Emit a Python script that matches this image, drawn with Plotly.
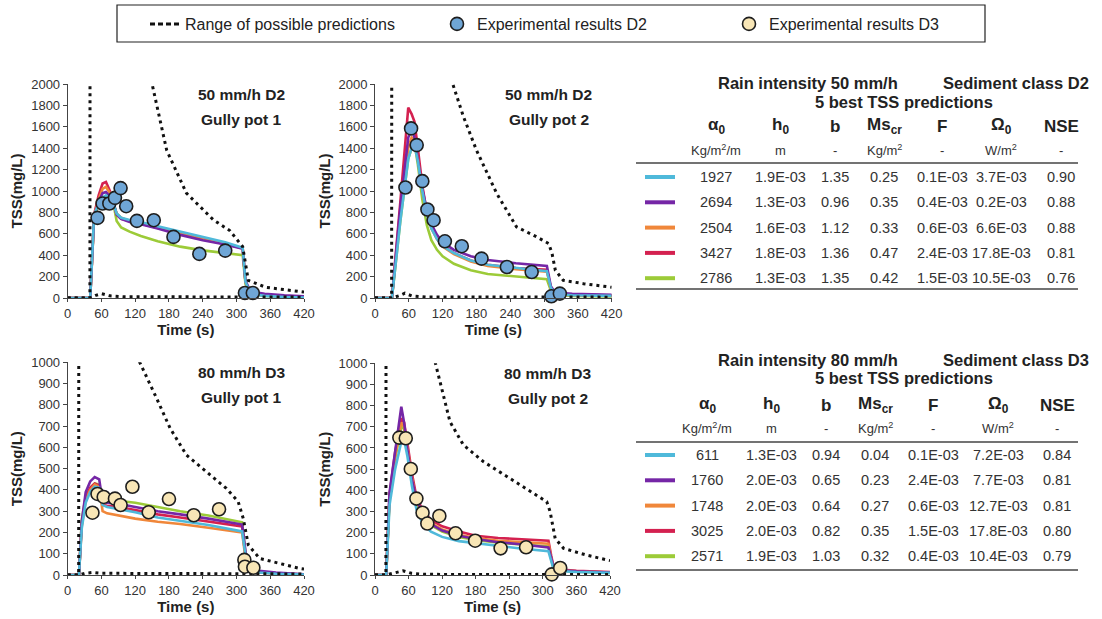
import plotly.graph_objects as go

W, H = 1102, 619
FONT = "Liberation Sans, Arial, sans-serif"

# ---------------- colours of the 5 best predictions (table order) ----------
SERIES_NAMES = ["cyan", "purple", "orange", "red", "green"]
SERIES_COLORS = ["#4FB9DA", "#7526A6", "#F0873A", "#D42150", "#9CCB38"]
D2_FILL = "#6FA6D6"
D3_FILL = "#F8E6B6"

# ---------------- 50 mm/h D2, gully pot 1 ----------------------------------
t_a = [0, 40, 47, 55, 62, 68, 75, 82, 87, 95, 110, 130, 160, 200, 240, 280, 311, 316, 325, 350, 385, 420]
a_cyan = [0, 0, 780, 880, 940, 960, 930, 870, 790, 750, 730, 710, 670, 620, 570, 520, 470, 150, 40, 20, 10, 5]
a_purple = [0, 0, 760, 900, 980, 990, 950, 880, 780, 740, 710, 690, 650, 590, 540, 500, 460, 160, 60, 40, 25, 15]
a_orange = [0, 0, 770, 920, 1020, 1040, 980, 880, 790, 750, 720, 700, 660, 600, 550, 510, 465, 150, 45, 25, 12, 6]
a_red = [0, 0, 780, 960, 1070, 1085, 1000, 880, 780, 740, 720, 695, 655, 600, 550, 505, 465, 150, 45, 25, 12, 6]
a_green = [0, 0, 750, 870, 930, 945, 920, 860, 720, 660, 620, 580, 530, 480, 445, 420, 400, 130, 40, 20, 10, 5]
a_up_t = [0, 39.5, 40, 150, 176, 211, 259, 288, 311, 321, 352, 420]
a_up_v = [0, 0, 6000, 2000, 1380, 980, 730, 630, 480, 165, 100, 55]
a_lo_t = [0, 40, 50, 60, 75, 100, 420]
a_lo_v = [0, 0, 25, 40, 20, 12, 8]
a_exp_t = [53, 62, 74, 84, 94, 104, 123, 153, 188, 234, 280, 315, 329]
a_exp_v = [749, 883, 883, 936, 1027, 858, 721, 727, 571, 412, 443, 47, 47]

# ---------------- 50 mm/h D2, gully pot 2 ----------------------------------
t_b = [0, 30, 45, 59, 65, 70, 76, 84, 92, 100, 110, 120, 140, 170, 200, 250, 305, 312, 320, 350, 420]
b_cyan = [0, 0, 720, 1300, 1400, 1430, 1280, 1000, 780, 650, 550, 485, 420, 350, 310, 280, 250, 95, 35, 25, 20]
b_purple = [0, 0, 850, 1500, 1580, 1500, 1300, 1020, 820, 690, 590, 520, 450, 390, 355, 325, 300, 110, 50, 40, 30]
b_orange = [0, 0, 780, 1400, 1500, 1480, 1300, 1000, 780, 650, 550, 480, 410, 340, 300, 270, 245, 95, 35, 25, 20]
b_red = [0, 0, 900, 1780, 1720, 1650, 1400, 1050, 800, 660, 560, 490, 420, 350, 310, 280, 265, 100, 40, 30, 25]
b_green = [0, 0, 720, 1300, 1400, 1450, 1250, 920, 680, 540, 450, 390, 320, 260, 225, 200, 175, 70, 30, 20, 15]
b_up_t = [0, 29.5, 30, 138, 157, 180, 216, 251, 287, 308, 314, 320, 334, 370, 420]
b_up_v = [0, 0, 6000, 2000, 1694, 1382, 977, 665, 571, 509, 420, 259, 165, 134, 100]
b_lo_t = [0, 30, 45, 53, 65, 90, 420]
b_lo_v = [0, 0, 25, 45, 20, 10, 8]
b_exp_t = [54, 64, 74, 84, 93, 104, 124, 154, 189, 234, 278, 313, 328]
b_exp_v = [1033, 1585, 1429, 1092, 827, 727, 530, 484, 368, 290, 243, 16, 41]

# ---------------- 80 mm/h D3, gully pot 1 ----------------------------------
t_c = [0, 20, 25, 32, 40, 48, 56, 62, 70, 90, 120, 160, 200, 250, 310, 315, 320, 340, 370, 420]
c_cyan = [0, 0, 220, 340, 390, 415, 410, 330, 320, 310, 295, 270, 255, 235, 205, 100, 20, 12, 6, 2]
c_purple = [0, 0, 250, 390, 440, 460, 450, 345, 340, 335, 320, 300, 285, 265, 237, 120, 30, 20, 12, 3]
c_orange = [0, 0, 230, 350, 400, 425, 415, 300, 290, 280, 265, 250, 240, 222, 200, 100, 20, 12, 6, 2]
c_red = [0, 0, 240, 360, 410, 430, 420, 330, 325, 320, 305, 285, 270, 250, 228, 110, 25, 15, 8, 2]
c_green = [0, 0, 260, 370, 410, 430, 425, 360, 355, 350, 340, 320, 300, 280, 248, 120, 25, 15, 8, 2]
c_up_t = [0, 19.5, 20, 128, 158, 182, 211, 247, 282, 303, 312, 321, 341, 412, 420]
c_up_v = [0, 0, 3000, 1000, 831, 690, 564, 486, 407, 345, 266, 141, 78, 31, 28]
c_lo_t = [0, 20, 30, 45, 60, 420]
c_lo_v = [0, 0, 8, 12, 8, 5]
c_exp_t = [44, 53, 64, 84, 94, 115, 144, 180, 224, 269, 314, 315, 330]
c_exp_v = [293, 381, 367, 359, 329, 415, 295, 357, 281, 309, 71, 39, 34]

# ---------------- 80 mm/h D3, gully pot 2 ----------------------------------
t_d = [0, 20, 26, 36, 47, 52, 58, 66, 74, 86, 100, 120, 150, 180, 220, 260, 310, 315, 320, 360, 420]
d_cyan = [0, 0, 330, 500, 630, 640, 560, 420, 310, 240, 205, 180, 160, 150, 135, 125, 112, 60, 20, 14, 10]
d_purple = [0, 0, 390, 590, 795, 720, 590, 450, 360, 285, 240, 210, 185, 170, 155, 145, 130, 80, 25, 18, 12]
d_orange = [0, 0, 370, 560, 720, 700, 600, 460, 350, 285, 245, 215, 190, 175, 162, 155, 148, 80, 25, 18, 12]
d_red = [0, 0, 380, 580, 740, 720, 620, 480, 370, 300, 260, 230, 205, 185, 175, 168, 162, 90, 28, 20, 14]
d_green = [0, 0, 360, 550, 700, 690, 590, 450, 340, 275, 235, 205, 180, 165, 152, 145, 135, 75, 22, 15, 10]
d_up_t = [0, 19.5, 20, 108, 134, 158, 194, 241, 277, 307, 313, 322, 337, 378, 420]
d_up_v = [0, 0, 3000, 1000, 724, 614, 535, 457, 394, 346, 299, 173, 126, 94, 68]
d_lo_t = [0, 20, 35, 50, 65, 90, 420]
d_lo_v = [0, 0, 10, 20, 8, 3, 2]
d_exp_t = [43.5, 55, 64, 74, 85, 93.5, 115, 144, 179, 224.5, 270, 316, 331]
d_exp_v = [649, 646, 501, 361, 294, 243, 279, 197, 162, 126, 131, 3, 33]

# ---------------- axis ticks ----------------------------------------------
x_tickvals = [0, 60, 120, 180, 240, 300, 360, 420]
x_ticktext = ["0", "60", "120", "180", "240", "300", "360", "420"]
x_ticktext_d = ["0", "60", "120", "180", "250", "300", "360", "420"]
y_ticks_top = [0, 200, 400, 600, 800, 1000, 1200, 1400, 1600, 1800, 2000]
y_ticks_bot = [0, 100, 200, 300, 400, 500, 600, 700, 800, 900, 1000]

panel_titles = [("50 mm/h D2", "Gully pot 1"), ("50 mm/h D2", "Gully pot 2"),
                ("80 mm/h D3", "Gully pot 1"), ("80 mm/h D3", "Gully pot 2")]

# ---------------- tables ----------------------------------------------------
tab_headers = ["α<sub>0</sub>", "h<sub>0</sub>", "b", "Ms<sub>cr</sub>", "F", "Ω<sub>0</sub>", "NSE"]
tab_units = ["Kg/m<sup>2</sup>/m", "m", "-", "Kg/m<sup>2</sup>", "-", "W/m<sup>2</sup>", "-"]
tab1_title = ("Rain intensity 50 mm/h", "Sediment class D2", "5 best TSS predictions")
tab1_rows = [
    ["1927", "1.9E-03", "1.35", "0.25", "0.1E-03", "3.7E-03", "0.90"],
    ["2694", "1.3E-03", "0.96", "0.35", "0.4E-03", "0.2E-03", "0.88"],
    ["2504", "1.6E-03", "1.12", "0.33", "0.6E-03", "6.6E-03", "0.88"],
    ["3427", "1.8E-03", "1.36", "0.47", "2.4E-03", "17.8E-03", "0.81"],
    ["2786", "1.3E-03", "1.35", "0.42", "1.5E-03", "10.5E-03", "0.76"],
]
tab2_title = ("Rain intensity 80 mm/h", "Sediment class D3", "5 best TSS predictions")
tab2_rows = [
    ["611", "1.3E-03", "0.94", "0.04", "0.1E-03", "7.2E-03", "0.84"],
    ["1760", "2.0E-03", "0.65", "0.23", "2.4E-03", "7.7E-03", "0.81"],
    ["1748", "2.0E-03", "0.64", "0.27", "0.6E-03", "12.7E-03", "0.81"],
    ["3025", "2.0E-03", "0.82", "0.35", "1.5E-03", "17.8E-03", "0.80"],
    ["2571", "1.9E-03", "1.03", "0.32", "0.4E-03", "10.4E-03", "0.79"],
]

# =========================== layout helpers ================================
def fx(p):
    return p / W


def fy(p):
    return 1 - p / H


# panel pixel boxes (left, right, top, bottom)
boxes = [(67.7, 304, 84, 298), (375, 611.7, 84, 298),
         (67.7, 304, 362.3, 575), (375, 610, 363.3, 575)]

panels = [
    dict(t=t_a, s=[a_cyan, a_purple, a_orange, a_red, a_green], up=(a_up_t, a_up_v), lo=(a_lo_t, a_lo_v),
         exp=(a_exp_t, a_exp_v), fill=D2_FILL, yr=2000, yt=y_ticks_top, xt=x_ticktext),
    dict(t=t_b, s=[b_cyan, b_purple, b_orange, b_red, b_green], up=(b_up_t, b_up_v), lo=(b_lo_t, b_lo_v),
         exp=(b_exp_t, b_exp_v), fill=D2_FILL, yr=2000, yt=y_ticks_top, xt=x_ticktext),
    dict(t=t_c, s=[c_cyan, c_purple, c_orange, c_red, c_green], up=(c_up_t, c_up_v), lo=(c_lo_t, c_lo_v),
         exp=(c_exp_t, c_exp_v), fill=D3_FILL, yr=1000, yt=y_ticks_bot, xt=x_ticktext),
    dict(t=t_d, s=[d_cyan, d_purple, d_orange, d_red, d_green], up=(d_up_t, d_up_v), lo=(d_lo_t, d_lo_v),
         exp=(d_exp_t, d_exp_v), fill=D3_FILL, yr=1000, yt=y_ticks_bot, xt=x_ticktext_d),
]

fig = go.Figure()
DOT = "3px,4px"
draw_order = [4, 3, 2, 1, 0]  # green, red, orange, purple, cyan (cyan on top)
MK = 13

for i, p in enumerate(panels):
    xa = "x" if i == 0 else f"x{i+1}"
    ya = "y" if i == 0 else f"y{i+1}"
    for k in draw_order:
        fig.add_trace(go.Scatter(x=p["t"], y=p["s"][k], mode="lines", xaxis=xa, yaxis=ya,
                                 line=dict(color=SERIES_COLORS[k], width=2.6), showlegend=False,
                                 hoverinfo="skip"))
    for (tt, vv) in (p["up"], p["lo"]):
        fig.add_trace(go.Scatter(x=tt, y=vv, mode="lines", xaxis=xa, yaxis=ya,
                                 line=dict(color="#111111", width=3, dash=DOT), showlegend=False,
                                 hoverinfo="skip"))
    fig.add_trace(go.Scatter(x=p["exp"][0], y=p["exp"][1], mode="markers", xaxis=xa, yaxis=ya,
                             marker=dict(size=MK, color=p["fill"], line=dict(color="#1e1e1e", width=1.6)),
                             showlegend=False, cliponaxis=False))

# legend-only entries
fig.add_trace(go.Scatter(x=[None], y=[None], mode="lines", name="Range of possible predictions",
                         line=dict(color="#111111", width=3, dash="5px,3px")))
fig.add_trace(go.Scatter(x=[None], y=[None], mode="markers", name="Experimental results D2",
                         marker=dict(size=MK, color=D2_FILL, line=dict(color="#1e1e1e", width=1.6))))
fig.add_trace(go.Scatter(x=[None], y=[None], mode="markers", name="Experimental results D3",
                         marker=dict(size=MK, color=D3_FILL, line=dict(color="#1e1e1e", width=1.6))))

layout = dict(
    width=W, height=H, margin=dict(l=0, r=0, t=0, b=0, autoexpand=False),
    paper_bgcolor="white", plot_bgcolor="white",
    font=dict(family=FONT, color="#222222"),
    showlegend=True,
    legend=dict(orientation="h", x=fx(145), y=fy(24), xanchor="left", yanchor="middle",
                entrywidth=247, entrywidthmode="pixels", font=dict(size=16, color="#222222"),
                bgcolor="rgba(0,0,0,0)", borderwidth=0),
)
annotations = []
shapes = []

for i, p in enumerate(panels):
    l, r, t, b = boxes[i]
    sx = "xaxis" if i == 0 else f"xaxis{i+1}"
    sy = "yaxis" if i == 0 else f"yaxis{i+1}"
    xa = "x" if i == 0 else f"x{i+1}"
    ya = "y" if i == 0 else f"y{i+1}"
    layout[sx] = dict(domain=[fx(l), fx(r)], range=[0, 420], anchor=ya, tickvals=x_tickvals,
                      ticktext=p["xt"], showgrid=False, zeroline=False, showline=True, linecolor="#444444",
                      linewidth=1, ticks="outside", ticklen=3, tickcolor="#444444", automargin=False,
                      tickfont=dict(size=13, color="#333333"),
                      title=dict(text="<b>Time (s)</b>", font=dict(size=15, color="#222222"), standoff=4))
    layout[sy] = dict(domain=[fy(b), fy(t)], range=[0, p["yr"]], anchor=xa, tickvals=p["yt"],
                      showgrid=False, zeroline=False, showline=True, linecolor="#444444", linewidth=1,
                      ticks="outside", ticklen=4, tickcolor="#444444", automargin=False,
                      tickfont=dict(size=13, color="#333333"),
                      title=dict(text="<b>TSS(mg/L)</b>", font=dict(size=15, color="#222222"), standoff=4))
    cx = l + 0.735 * (r - l)
    l1, l2 = panel_titles[i]
    annotations.append(dict(xref="paper", yref="paper", x=fx(cx), y=fy(t + 10), text=f"<b>{l1}</b>",
                            showarrow=False, font=dict(size=15.5, color="#222222"), xanchor="center",
                            yanchor="middle"))
    annotations.append(dict(xref="paper", yref="paper", x=fx(cx), y=fy(t + 35), text=f"<b>{l2}</b>",
                            showarrow=False, font=dict(size=15.5, color="#222222"), xanchor="center",
                            yanchor="middle"))

# legend frame
shapes.append(dict(type="rect", xref="paper", yref="paper", x0=fx(117), x1=fx(985), y0=fy(42), y1=fy(5),
                   line=dict(color="#222222", width=1.2), fillcolor="rgba(0,0,0,0)", layer="below"))


def ann(x, y, text, size, color="#222222", xanchor="center"):
    annotations.append(dict(xref="paper", yref="paper", x=fx(x), y=fy(y), text=text, showarrow=False,
                            xanchor=xanchor, yanchor="middle", font=dict(size=size, color=color)))


def add_table(title, rows, cols_x, y_title, y_sub, y_head, y_unit, y_rule1, y_row0, row_step, y_rule2):
    ann(900, y_title, f"<b>{title[0]}</b>", 16.5, xanchor="right")
    ann(1091, y_title, f"<b>{title[1]}</b>", 16.5, xanchor="right")
    ann(904, y_sub, f"<b>{title[2]}</b>", 16.5)
    for j, (h, u) in enumerate(zip(tab_headers, tab_units)):
        ann(cols_x[j], y_head, f"<b>{h}</b>", 17)
        ann(cols_x[j], y_unit, u, 13, color="#333333")
    for k, row in enumerate(rows):
        yy = y_row0 + k * row_step
        shapes.append(dict(type="line", xref="paper", yref="paper", x0=fx(645), x1=fx(675), y0=fy(yy), y1=fy(yy),
                           line=dict(color=SERIES_COLORS[k], width=4)))
        for j, v in enumerate(row):
            ann(cols_x[j], yy, v, 14.5, color="#333333")
    for yr_ in (y_rule1, y_rule2):
        shapes.append(dict(type="line", xref="paper", yref="paper", x0=fx(636), x1=fx(1078), y0=fy(yr_), y1=fy(yr_),
                           line=dict(color="#444444", width=1.6)))


add_table(tab1_title, tab1_rows, [716, 780, 835, 884, 942, 1001, 1061], 83, 102, 126, 150, 163, 177, 25.3, 289)
add_table(tab2_title, tab2_rows, [707, 771, 826, 875, 933, 998, 1057], 360, 378, 405, 428, 442, 455, 25.3, 570)

layout["annotations"] = annotations
layout["shapes"] = shapes
fig.update_layout(**layout)
fig.write_html("out.html", config={"displayModeBar": False},
               post_script="document.body.style.margin='0px';")
